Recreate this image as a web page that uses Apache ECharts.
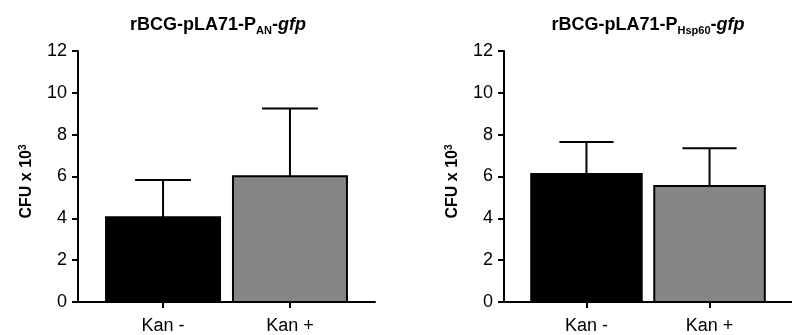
<!DOCTYPE html>
<html>
<head>
<meta charset="utf-8">
<script src="https://cdn.jsdelivr.net/npm/echarts@6/dist/echarts.min.js"></script>
<style>
html,body{margin:0;padding:0;background:#fff;}
#c{width:792px;height:335px;}
</style>
</head>
<body>
<div id="c"></div>
<script>
// ---- data ----
const categories = ['Kan -', 'Kan +'];
const leftMeans = [4.05, 6.01];
const leftErrUpper = [5.83, 9.25];
const rightMeans = [6.12, 5.55];
const rightErrUpper = [7.65, 7.35];
const yTicks = { min: 0, max: 12, interval: 2 };
const barColors = ['#000000', '#858585'];

const FONT = '"Liberation Sans", Arial, sans-serif';

function buildData(means, upper) {
  return means.map((m, i) => [i, m, upper[i]]);
}

const HALF_BAR = 0.449;
const HALF_CAP = 0.22;

function renderItem(params, api) {
  const x = api.value(0), m = api.value(1), up = api.value(2);
  const tl = api.coord([x - HALF_BAR, m]);
  const br = api.coord([x + HALF_BAR, 0]);
  const top = api.coord([x, m]);
  const et = api.coord([x, up]);
  const cl = api.coord([x - HALF_CAP, up]);
  const cr = api.coord([x + HALF_CAP, up]);
  return {
    type: 'group',
    children: [
      { type: 'rect', shape: { x: tl[0], y: tl[1], width: br[0] - tl[0], height: br[1] - tl[1] },
        style: { fill: barColors[x], stroke: '#000', lineWidth: 2 } },
      { type: 'line', shape: { x1: top[0], y1: top[1], x2: et[0], y2: et[1] },
        style: { stroke: '#000', lineWidth: 2 } },
      { type: 'line', shape: { x1: cl[0], y1: cl[1], x2: cr[0], y2: cr[1] },
        style: { stroke: '#000', lineWidth: 2 } }
    ]
  };
}

function xAxisCfg(gi) {
  return {
    gridIndex: gi, type: 'value', min: -0.67, max: 1.67,
    axisLine: { show: true, onZero: false, lineStyle: { color: '#000', width: 2 } },
    axisTick: { show: true, customValues: [0, 1], length: 6, lineStyle: { color: '#000', width: 2 } },
    axisLabel: { customValues: [0, 1], formatter: v => categories[Math.round(v)], color: '#000',
      fontSize: 18, fontFamily: FONT, margin: 15 },
    splitLine: { show: false }
  };
}
function yAxisCfg(gi) {
  return {
    gridIndex: gi, type: 'value', min: yTicks.min, max: yTicks.max, interval: yTicks.interval,
    axisLine: { show: true, onZero: false, lineStyle: { color: '#000', width: 2 } },
    axisTick: { show: true, length: 6, lineStyle: { color: '#000', width: 2 } },
    axisLabel: { color: '#000', fontSize: 18, fontFamily: FONT, margin: 11 },
    splitLine: { show: false },
    name: '{n|CFU x 10}{p|3}', nameLocation: 'middle', nameGap: 42, nameRotate: 90,
    nameTextStyle: {
      padding: [0, 10, 0, 0],
      rich: {
        n: { fontSize: 16, fontWeight: 'bold', fontFamily: FONT, color: '#000', lineHeight: 18 },
        p: { fontSize: 10, fontWeight: 'bold', fontFamily: FONT, color: '#000', verticalAlign: 'top', lineHeight: 10 }
      }
    }
  };
}

const titleRich = {
  m: { fontSize: 18, fontWeight: 'bold', fontFamily: FONT, color: '#000', lineHeight: 22 },
  s: { fontSize: 11, fontWeight: 'bold', fontFamily: FONT, color: '#000', lineHeight: 12, verticalAlign: 'bottom' },
  i: { fontSize: 18, fontWeight: 'bold', fontStyle: 'italic', fontFamily: FONT, color: '#000', lineHeight: 22 }
};

const chart = echarts.init(document.getElementById('c'), null, { renderer: 'canvas' });
chart.setOption({
  animation: false,
  backgroundColor: '#fff',
  title: [
    { text: '{m|rBCG-pLA71-P}{s|AN}{m|-}{i|gfp}', left: 213, top: 9, textAlign: 'center',
      textStyle: { rich: titleRich } },
    { text: '{m|rBCG-pLA71-P}{s|Hsp60}{m|-}{i|gfp}', left: 643, top: 9, textAlign: 'center',
      textStyle: { rich: titleRich } }
  ],
  grid: [
    { left: 78, top: 51, width: 297, bottom: 31 },
    { left: 504, top: 51, width: 297, bottom: 31 }
  ],
  xAxis: [xAxisCfg(0), xAxisCfg(1)],
  yAxis: [yAxisCfg(0), yAxisCfg(1)],
  series: [
    { type: 'custom', xAxisIndex: 0, yAxisIndex: 0, renderItem, data: buildData(leftMeans, leftErrUpper), clip: false },
    { type: 'custom', xAxisIndex: 1, yAxisIndex: 1, renderItem, data: buildData(rightMeans, rightErrUpper), clip: false }
  ]
});
</script>
</body>
</html>
